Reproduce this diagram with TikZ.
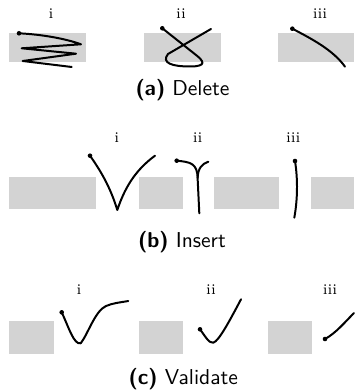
\documentclass[tikz,border=0pt]{standalone}
\usepackage{fontspec}
\definecolor{boxgray}{RGB}{211,211,211}
\tikzset{
  blockbox/.style={fill=boxgray},
  stroke/.style={line width=1pt, line cap=round, line join=round},
  dotmark/.style={circle, fill=black, inner sep=0pt, minimum size=2.3pt},
  sublabel/.style={anchor=base, inner sep=0pt, font=\rmfamily\fontsize{7.4}{9}\selectfont},
  capt/.style={anchor=base, inner sep=0pt, font=\sffamily\fontsize{10.8}{13}\selectfont}
}
\begin{document}
\begin{tikzpicture}[x=0.5bp, y=-0.5bp]
\useasboundingbox (0,0) rectangle (354,390);

% ---------------- (a) Delete ----------------
\fill[blockbox] (9,32.7) rectangle (86,61.7);
\fill[blockbox] (144,32.7) rectangle (221,61.7);
\fill[blockbox] (278,32.7) rectangle (354,61.7);
\node[sublabel] (ai) at (51,18.3) {i};
\node[sublabel] (aii) at (181,18.3) {ii};
\node[sublabel] (aiii) at (320,18.3) {iii};

\coordinate (a1s) at (19,33.3);
\draw[stroke] (a1s) .. controls (42,34.5) and (65,38.5) .. (81,44.3)
  -- (21.7,48.3) -- (76,53.7) -- (22.7,61) -- (71.7,67);
\node[dotmark] (a1d) at (a1s) {};

\coordinate (a2s) at (162.3,28.3);
\coordinate (a2e) at (211,29);
\draw[stroke] (a2s) -- (196,55) .. controls (203,60.5) and (208,66.5) .. (190,66.5)
  .. controls (172,66.5) and (161,63) .. (168,54) -- (a2e);
\node[dotmark] (a2d) at (a2s) {};

\coordinate (a3s) at (292.3,28.7);
\coordinate (a3e) at (345,66.7);
\draw[stroke] (a3s) .. controls (312,39) and (333,50) .. (a3e);
\node[dotmark] (a3d) at (a3s) {};

\node[capt] (capa) at (182.5,95.5) {\textbf{(a)} Delete};

% ---------------- (b) Insert ----------------
\fill[blockbox] (9,177) rectangle (96,209.5);
\fill[blockbox] (139.3,177) rectangle (182.7,209.5);
\fill[blockbox] (214.3,177) rectangle (278.5,209.5);
\fill[blockbox] (311,177) rectangle (354,209.5);
\node[sublabel] (bi) at (116.7,142.7) {i};
\node[sublabel] (bii) at (197.7,142.7) {ii};
\node[sublabel] (biii) at (293.3,142.7) {iii};

\coordinate (b1s) at (90,155.7);
\coordinate (b1m) at (117.3,210);
\coordinate (b1e) at (155,155.7);
\draw[stroke] (b1s) .. controls (100,170) and (110,186) .. (b1m)
  .. controls (124,190) and (134,171) .. (b1e);
\node[dotmark] (b1d) at (b1s) {};

\coordinate (b2s) at (176.7,160.7);
\coordinate (b2j) at (197.6,178);
\coordinate (b2e) at (199.3,213.3);
\coordinate (b2r) at (208.3,161.7);
\draw[stroke] (b2s) .. controls (190,162) and (197.3,163) .. (b2j) -- (b2e);
\draw[stroke] (b2j) .. controls (198,168) and (202,164) .. (b2r);
\node[dotmark] (b2d) at (b2s) {};

\coordinate (b3s) at (295,161);
\coordinate (b3e) at (294.3,217.7);
\draw[stroke] (b3s) .. controls (298,180) and (297.5,200) .. (b3e);
\node[dotmark] (b3d) at (b3s) {};

\node[capt] (capb) at (182,247.3) {\textbf{(b)} Insert};

% ---------------- (c) Validate ----------------
\fill[blockbox] (9,321) rectangle (54,353.5);
\fill[blockbox] (139.3,321) rectangle (183,353.5);
\fill[blockbox] (268,321) rectangle (311.7,353.5);
\node[sublabel] (ci) at (79,294) {i};
\node[sublabel] (cii) at (211,294) {ii};
\node[sublabel] (ciii) at (330,294) {iii};

\coordinate (c1s) at (61.7,312.3);
\coordinate (c1m) at (80.7,343.3);
\coordinate (c1e) at (128.3,301);
\draw[stroke] (c1s) .. controls (69,328) and (74,345) .. (c1m)
  .. controls (88,334) and (95,311) .. (106,306)
  .. controls (113,303) and (120,302.5) .. (c1e);
\node[dotmark] (c1d) at (c1s) {};

\coordinate (c2s) at (200,329.3);
\coordinate (c2m) at (213.3,342.7);
\coordinate (c2e) at (241,299.3);
\draw[stroke] (c2s) .. controls (205,336) and (209,343.5) .. (c2m)
  .. controls (219,341) and (230,320) .. (c2e);
\node[dotmark] (c2d) at (c2s) {};

\coordinate (c3s) at (325,339);
\coordinate (c3e) at (354,313);
\draw[stroke] (c3s) .. controls (336,333) and (345,322) .. (c3e);
\node[dotmark] (c3d) at (c3s) {};

\node[capt] (capc) at (183.3,384) {\textbf{(c)} Validate};
\end{tikzpicture}
\end{document}
